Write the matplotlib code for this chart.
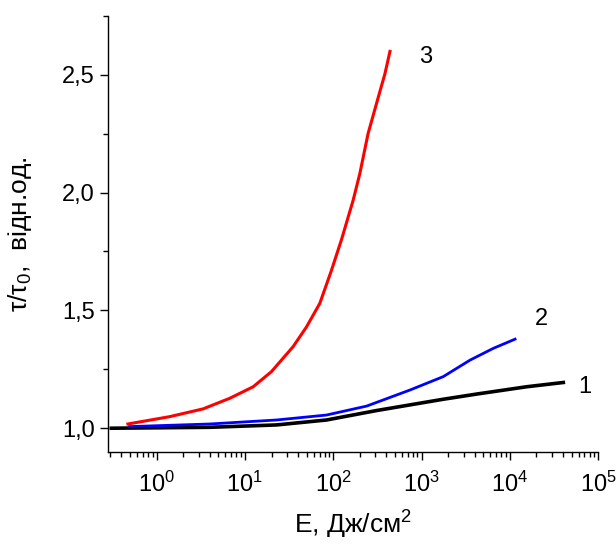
import matplotlib
matplotlib.use("Agg")
import matplotlib.pyplot as plt
from matplotlib.ticker import LogLocator, MultipleLocator, FixedLocator, NullFormatter

plt.rcParams['font.family'] = ['Liberation Sans', 'DejaVu Sans']
plt.rcParams['mathtext.fontset'] = 'custom'
plt.rcParams['mathtext.rm'] = 'Liberation Sans'
plt.rcParams['mathtext.it'] = 'Liberation Sans'
plt.rcParams['mathtext.default'] = 'regular'

# Curve 1 (black)
e1 = [0.293, 3.98, 22.8, 84, 309, 1762, 4207, 15490, 42270]
y1 = [1.0, 1.004, 1.014, 1.035, 1.075, 1.123, 1.145, 1.176, 1.195]
# Curve 2 (blue)
e2 = [0.494, 3.98, 22.8, 84, 239, 738, 1762, 3540, 6500, 11460]
y2 = [1.007, 1.018, 1.035, 1.056, 1.094, 1.162, 1.219, 1.289, 1.339, 1.378]
# Curve 3 (red)
e3 = [0.473, 1.40, 3.35, 6.73, 12.4, 19.95, 35.1, 49.8, 70.5, 95.5, 124, 168, 200, 248, 324, 385, 439]
y3 = [1.018, 1.049, 1.082, 1.127, 1.176, 1.24, 1.346, 1.43, 1.53, 1.67, 1.80, 1.967, 2.08, 2.25, 2.405, 2.504, 2.599]

labels = ["1", "2", "3"]
label_pos = [(7.0e4, 1.175), (2.3e4, 1.465), (1.1e3, 2.575)]

yticks = [1.0, 1.5, 2.0, 2.5]
yticklabels = ["1,0", "1,5", "2,0", "2,5"]

fig = plt.figure(figsize=(6.16, 5.45), dpi=100)
ax = fig.add_axes([0.175, 0.171, 0.796, 0.80])

ax.plot(e1, y1, color='black', lw=2.6, solid_capstyle='butt')
ax.plot(e2, y2, color='#0000ff', lw=2.0)
ax.plot(e3, y3, color='#ff0000', lw=2.2)

for t, (x, y) in zip(labels, label_pos):
    ax.text(x, y, t, fontsize=17, ha='center', va='center')

ax.set_xscale('log')
ax.set_xlim(0.28, 1e5)
ax.set_ylim(0.9, 2.75)

ax.xaxis.set_major_locator(LogLocator(base=10, numticks=10))
ax.xaxis.set_minor_locator(LogLocator(base=10, subs=range(2, 10), numticks=20))
ax.xaxis.set_minor_formatter(NullFormatter())
ax.yaxis.set_major_locator(FixedLocator(yticks))
ax.set_yticklabels(yticklabels)
ax.yaxis.set_minor_locator(MultipleLocator(0.25))

for s in ['top', 'right']:
    ax.spines[s].set_visible(False)
for s in ['left', 'bottom']:
    ax.spines[s].set_linewidth(1.0)

ax.tick_params(axis='both', which='major', direction='out', length=6, width=1, labelsize=17)
ax.tick_params(axis='both', which='minor', direction='out', length=3.5, width=1)
ax.tick_params(axis='x', which='major', pad=8)

ax.set_xlabel('E, Дж/см$^{2}$', fontsize=19, labelpad=9)
ax.set_ylabel('τ/τ$_{0}$,  відн.од.', fontsize=19, labelpad=20)

fig.savefig('out.png', dpi=100)
